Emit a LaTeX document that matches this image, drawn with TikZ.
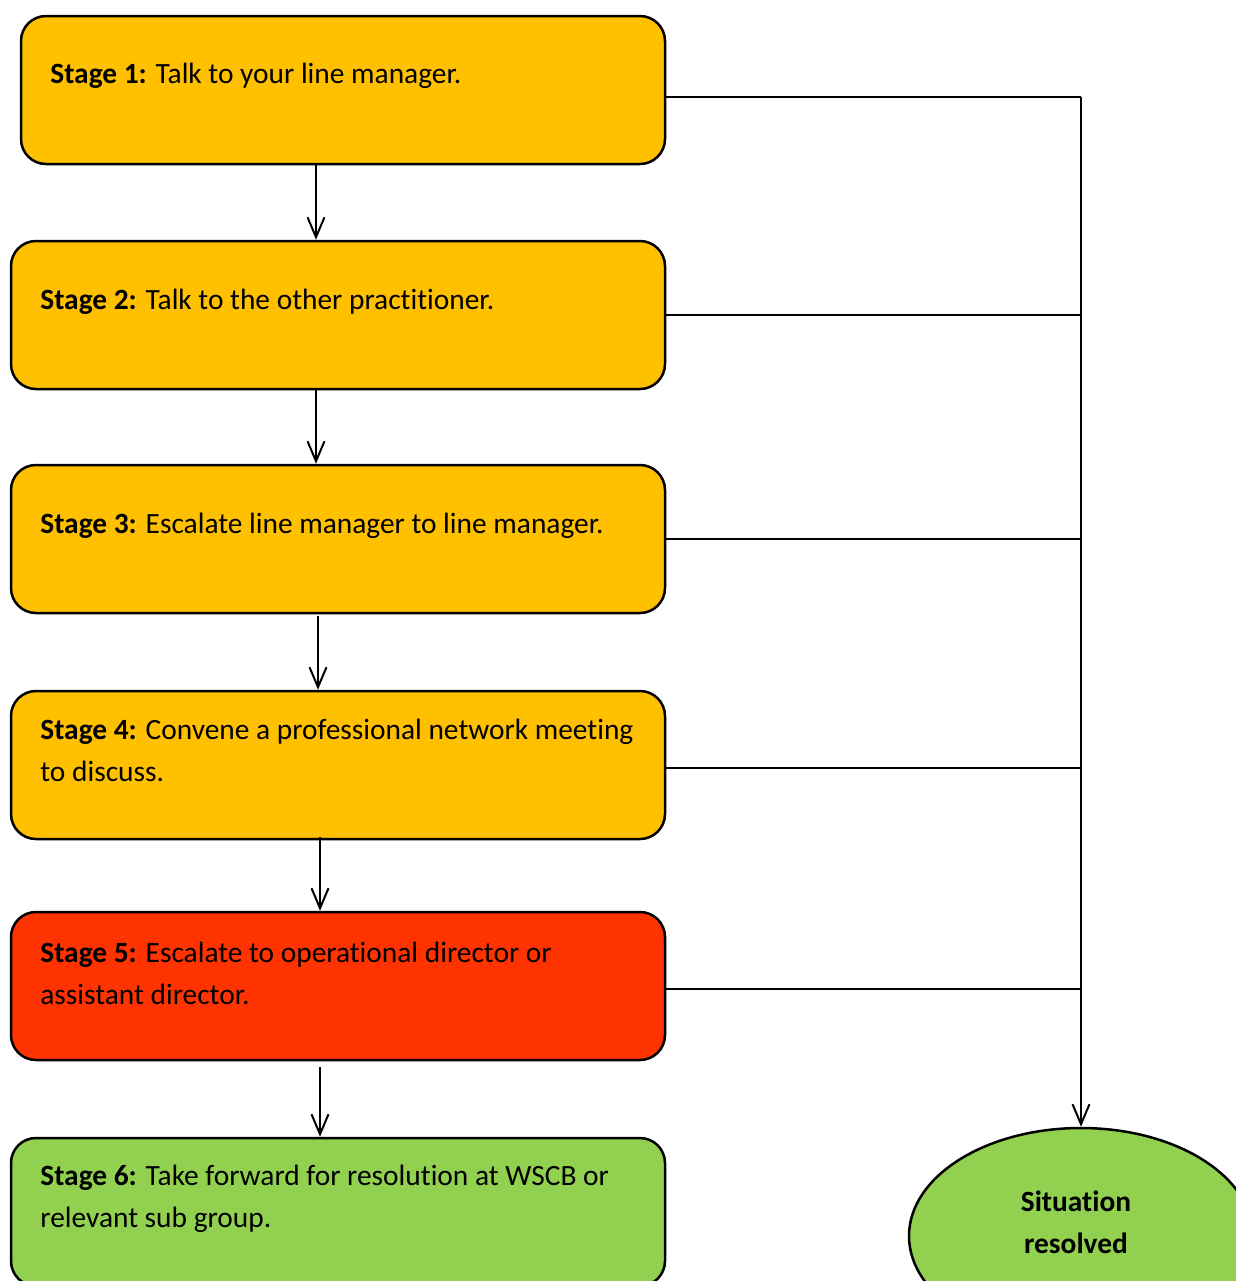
\documentclass[tikz,border=0pt]{standalone}
\usepackage{fontspec}
\setmainfont{Carlito}[Ligatures=NoCommon]
\usetikzlibrary{arrows.meta,shapes.geometric}
\definecolor{amber}{HTML}{FFC000}
\definecolor{alarm}{HTML}{FF3300}
\definecolor{okgreen}{HTML}{92D050}
\begin{document}
\begin{tikzpicture}[x=0.5pt,y=-0.5pt,
  stagebox/.style={draw=black,line width=1.25pt,rounded corners=12.5pt,minimum height=74pt,inner sep=0pt},
  stagetext/.style={anchor=west,align=left,inner sep=0pt,font=\fontsize{14.7pt}{21pt}\selectfont},
  conn/.style={line width=1pt},
  arr/.style={line width=1pt,-{Straight Barb[length=10pt,width=8.5pt,line width=1pt]}},
  endnode/.style={ellipse,draw=black,line width=1.25pt,fill=okgreen,minimum width=172pt,minimum height=108pt}]
\clip (0,0) rectangle (1236,1281);
\useasboundingbox (0,0) rectangle (1236,1281);
% boxes
\node[stagebox,fill=amber,minimum width=322pt] (b1) at (343,90) {};
\node[stagebox,fill=amber,minimum width=327pt] (b2) at (338,315) {};
\node[stagebox,fill=amber,minimum width=327pt] (b3) at (338,539) {};
\node[stagebox,fill=amber,minimum width=327pt] (b4) at (338,765) {};
\node[stagebox,fill=alarm,minimum width=327pt] (b5) at (338,986) {};
\node[stagebox,fill=okgreen,minimum width=327pt] (b6) at (338,1212) {};
% texts
\node[stagetext] (t1) at (50,76) {\textbf{Stage 1:} Talk to your line manager.};
\node[stagetext] (t2) at (40,302) {\textbf{Stage 2:} Talk to the other practitioner.};
\node[stagetext] (t3) at (40,526) {\textbf{Stage 3:} Escalate line manager to line manager.};
\node[stagetext] (t4) at (40,750) {\textbf{Stage 4:} Convene a professional network meeting\\to discuss.};
\node[stagetext] (t5) at (40,973) {\textbf{Stage 5:} Escalate to operational director or\\assistant director.};
\node[stagetext] (t6) at (40,1199) {\textbf{Stage 6:} Take forward for resolution at WSCB or\\relevant sub group.};
% end ellipse
\node[endnode] (res) at (1081,1236) {};
\node[align=center,inner sep=0pt,font=\fontsize{14.7pt}{21pt}\selectfont\bfseries] (rt) at (1076,1222) {Situation\\resolved};
% junction coordinates
\coordinate (j1) at (1081,97);
\coordinate (j2) at (1081,315);
\coordinate (j3) at (1081,539);
\coordinate (j4) at (1081,768);
\coordinate (j5) at (1081,989);
% vertical arrows
\draw[arr] (316,164) -- (b2.north -| 316,0);
\draw[arr] (b2.south -| 316,0) -- (b3.north -| 316,0);
\draw[arr] (318,616) -- (b4.north -| 318,0);
\draw[arr] (320,837) -- (b5.north -| 320,0);
\draw[arr] (320,1067) -- (b6.north -| 320,0);
% side connectors
\draw[conn] (b1.east |- j1) -- (j1);
\draw[conn] (b2.east |- j2) -- (j2);
\draw[conn] (b3.east |- j3) -- (j3);
\draw[conn] (b4.east |- j4) -- (j4);
\draw[conn] (b5.east |- j5) -- (j5);
\draw[arr] (j1) -- (res.north);
\end{tikzpicture}
\end{document}
